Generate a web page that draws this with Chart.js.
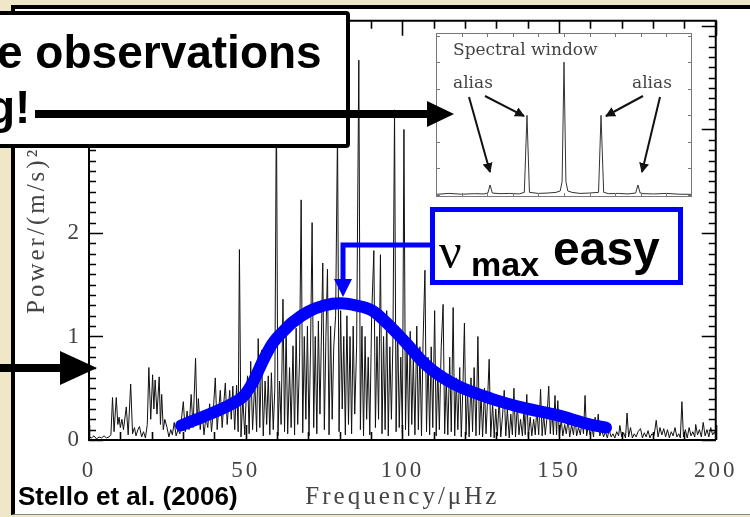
<!DOCTYPE html>
<html>
<head>
<meta charset="utf-8">
<script src="https://cdn.jsdelivr.net/npm/chart.js@4.4.0/dist/chart.umd.min.js"></script>
<style>
html, body { margin: 0; padding: 0; }
body { width: 750px; height: 517px; overflow: hidden; position: relative; background: #f0e6c8; }
#panel { position: absolute; left: 11px; top: 5px; width: 739px; height: 505px; background: #fff;
         border-left: 4px solid #000; border-top: 4px solid #000; border-bottom: 1px solid #888; }
#main { position: absolute; left: 0; top: 0; }
#inset { position: absolute; left: 436px; top: 33px; background: #fff; }
#notes { position: absolute; left: 0; top: 0; }
</style>
</head>
<body>
<div id="panel"></div>
<canvas id="main" width="750" height="517"></canvas>
<canvas id="inset" width="256" height="164"></canvas>
<svg id="notes" width="750" height="517" xmlns="http://www.w3.org/2000/svg">
  <defs>
    <marker id="ah" viewBox="0 0 10 10" refX="9" refY="5" markerWidth="5" markerHeight="5" orient="auto">
      <path d="M0,0 L10,5 L0,10 z" fill="#111"/>
    </marker>
  </defs>
  <!-- callout box, top left -->
  <rect x="-10" y="13" width="358" height="133" fill="#fff" stroke="#000" stroke-width="4" rx="2"/>
  <g font-family="Liberation Sans, Arial, sans-serif" font-weight="bold" font-size="46" fill="#000">
    <text x="-3" y="68">e observations</text>
    <text x="-13" y="123">g!</text>
  </g>
  <line x1="35" y1="114" x2="430" y2="114" stroke="#000" stroke-width="8"/>
  <polygon points="427,101 454,114 427,127" fill="#000"/>
  <!-- left arrow -->
  <line x1="0" y1="368" x2="64" y2="368" stroke="#000" stroke-width="8"/>
  <polygon points="60,351 97,368 60,385" fill="#000"/>
  <!-- numax box -->
  <rect x="432.5" y="209.5" width="248" height="73" fill="#fff" stroke="#0000ff" stroke-width="5"/>
  <text x="439" y="268" font-family="Liberation Serif, serif" font-size="50" fill="#000">ν</text>
  <text x="471" y="276" font-family="Liberation Sans, Arial, sans-serif" font-weight="bold" font-size="34" fill="#000">max</text>
  <text x="553" y="265" font-family="Liberation Sans, Arial, sans-serif" font-weight="bold" font-size="48" fill="#000">easy</text>
  <polyline points="432,245 343,245 343,282" stroke="#0000ff" stroke-width="5" fill="none"/>
  <polygon points="334,279 352,279 343,297" fill="#0000ff"/>
  <!-- inset labels -->
  <g font-family="DejaVu Serif, serif" fill="#444">
    <text x="453" y="55" font-size="17">Spectral window</text>
    <text x="453" y="88" font-size="17">alias</text>
    <text x="632" y="88" font-size="17">alias</text>
  </g>
  <g stroke="#111" stroke-width="2" marker-end="url(#ah)">
    <line x1="469" y1="97" x2="490" y2="172"/>
    <line x1="485" y1="96" x2="524" y2="116"/>
    <line x1="643" y1="96" x2="606" y2="116"/>
    <line x1="660" y1="97" x2="642" y2="172"/>
  </g>
  <text x="18" y="505" font-family="Liberation Sans, Arial, sans-serif" font-weight="bold" font-size="26" fill="#000">Stello et al. (2006)</text>
</svg>

<script>
// power spectrum (frequency in microHz, power in (m/s)^2)
const freq = [
  0, 0.8, 1.6, 2.4, 3.2, 4.0, 4.8, 5.6, 6.4, 7.0,
  7.5, 8.0, 8.7, 9.2, 9.6, 10.0, 10.5, 11.0, 11.9, 12.5,
  13.3, 13.9, 14.5, 15.0, 15.6, 16.1, 16.8, 17.4, 18.0, 18.6,
  19.1, 19.7, 20.3, 20.7, 21.1, 21.7, 22.4, 22.8, 23.2, 23.7,
  24.2, 24.9, 25.5, 26.1, 26.6, 27.2, 27.8, 28.4, 29.0, 29.5,
  30.1, 30.7, 31.3, 31.9, 32.6, 33.2, 34.0, 34.5, 34.9, 35.5,
  36.1, 36.7, 37.3, 37.9, 38.5, 39.1, 39.7, 40.3, 40.9, 41.4,
  41.9, 42.5, 43.0, 43.5, 44.1, 44.9, 45.4, 45.9, 46.5, 47.1,
  47.6, 48.0, 48.5, 49.1, 49.7, 50.2, 50.6, 51.1, 51.6, 52.2,
  52.9, 53.5, 54.0, 54.5, 55.1, 55.6, 56.2, 56.7, 57.2, 57.7,
  58.2, 58.8, 59.3, 59.8, 60.3, 60.8, 61.3, 61.9, 62.4, 62.9,
  63.4, 64.0, 64.5, 65.1, 65.6, 66.1, 66.6, 67.2, 67.7, 68.2,
  68.7, 69.2, 69.7, 70.2, 70.7, 71.2, 71.7, 72.2, 72.7, 73.2,
  73.7, 74.1, 74.6, 75.1, 75.6, 76.1, 76.6, 77.1, 77.6, 78.1,
  78.7, 79.3, 79.8, 80.3, 80.8, 81.3, 81.8, 82.3, 82.8, 83.3,
  83.8, 84.3, 84.8, 85.4, 86.1, 86.6, 87.1, 87.6, 88.1, 88.6,
  89.1, 89.6, 90.2, 90.9, 91.4, 91.9, 92.4, 93.0, 93.5, 94.0,
  94.5, 95.0, 95.5, 96.0, 96.5, 97.0, 97.5, 98.0, 98.5, 99.0,
  99.5, 100.0, 100.5, 101.0, 101.5, 102.0, 102.5, 103.0, 103.5, 104.0,
  104.6, 105.1, 105.6, 106.1, 106.6, 107.2, 107.7, 108.2, 108.7, 109.2,
  109.7, 110.3, 110.8, 111.3, 111.8, 112.4, 113.0, 113.5, 114.0, 114.5,
  115.1, 115.6, 116.2, 116.7, 117.2, 117.7, 118.3, 118.8, 119.3, 119.8,
  120.3, 120.8, 121.3, 121.9, 122.4, 122.9, 123.5, 124.1, 124.6, 125.1,
  125.6, 126.2, 126.7, 127.2, 127.7, 128.2, 128.8, 129.3, 129.8, 130.3,
  130.9, 131.4, 132.0, 132.5, 133.0, 133.5, 134.1, 134.6, 135.1, 135.6,
  136.1, 136.7, 137.2, 137.7, 138.3, 138.8, 139.2, 139.7, 140.2, 140.8,
  141.3, 141.9, 142.4, 142.9, 143.5, 144.1, 144.6, 145.1, 145.6, 146.1,
  146.7, 147.2, 147.7, 148.2, 148.7, 149.2, 149.6, 150.1, 150.7, 151.2,
  151.8, 152.3, 152.9, 153.4, 154.0, 154.6, 155.1, 155.6, 156.2, 156.8,
  157.3, 157.8, 158.3, 158.8, 159.4, 159.9, 160.5, 161.0, 161.5, 162.0,
  162.5, 163.0, 163.6, 164.2, 164.8, 165.4, 166.0, 166.6, 167.2, 167.8,
  168.4, 169.0, 169.4, 170.0, 170.6, 171.2, 171.7, 172.2, 172.8, 173.4,
  174.0, 174.6, 175.2, 176.0, 176.6, 177.2, 177.8, 178.4, 179.0, 179.6,
  180.3, 181.0, 181.6, 182.2, 182.8, 183.4, 184.0, 184.6, 185.2, 185.8,
  186.4, 187.0, 187.6, 188.2, 188.7, 189.2, 189.7, 190.3, 190.9, 191.5,
  192.1, 192.7, 193.3, 193.6, 194.2, 194.8, 195.4, 196.0, 196.6, 197.2,
  197.8, 198.4, 199.0, 199.6, 200.0
];
const power = [
  0.03, 0.02, 0.04, 0.01, 0.03, 0.02, 0.04, 0.02, 0.03, 0.05,
  0.41, 0.08, 0.41, 0.15, 0.22, 0.12, 0.20, 0.10, 0.32, 0.05,
  0.54, 0.06, 0.12, 0.04, 0.10, 0.13, 0.03, 0.08, 0.02, 0.15,
  0.70, 0.20, 0.63, 0.30, 0.58, 0.25, 0.61, 0.15, 0.44, 0.10,
  0.20, 0.12, 0.03, 0.10, 0.05, 0.17, 0.04, 0.10, 0.06, 0.20,
  0.37, 0.08, 0.28, 0.10, 0.44, 0.12, 0.79, 0.15, 0.40, 0.10,
  0.28, 0.05, 0.22, 0.12, 0.35, 0.08, 0.30, 0.60, 0.10, 0.30,
  0.48, 0.12, 0.35, 0.55, 0.15, 0.48, 0.20, 0.52, 0.10, 0.53,
  0.08, 1.84, 0.03, 0.40, 0.05, 0.45, 0.62, 0.06, 0.76, 0.10,
  0.57, 0.08, 0.98, 0.12, 0.87, 0.04, 0.57, 0.15, 0.62, 0.05,
  0.65, 0.10, 0.50, 3.30, 0.04, 0.57, 0.15, 1.36, 0.08, 1.08,
  0.06, 0.70, 0.12, 0.91, 0.05, 1.08, 0.15, 0.80, 2.32, 0.07,
  1.00, 0.20, 1.10, 0.04, 0.90, 2.10, 0.12, 1.00, 0.06, 1.15,
  0.25, 0.90, 1.71, 0.10, 1.00, 1.65, 0.05, 1.10, 0.20, 0.90,
  1.20, 3.00, 0.08, 1.25, 0.30, 1.00, 0.05, 1.20, 0.15, 1.00,
  0.06, 1.10, 0.25, 0.90, 3.67, 0.10, 1.10, 0.04, 1.00, 0.20,
  0.80, 0.05, 1.20, 1.83, 0.12, 1.00, 0.20, 1.79, 0.06, 1.00,
  0.10, 1.25, 0.04, 0.90, 0.20, 1.00, 3.19, 0.08, 1.10, 0.12,
  0.80, 0.06, 3.00, 0.10, 0.95, 0.04, 1.05, 0.15, 0.80, 0.05,
  1.10, 0.10, 0.90, 0.04, 0.95, 1.64, 0.08, 0.80, 0.05, 0.90,
  0.12, 1.25, 0.04, 0.70, 0.10, 0.90, 1.31, 0.06, 0.60, 0.05,
  0.80, 0.08, 1.28, 0.04, 0.60, 0.10, 0.70, 0.03, 0.50, 1.13,
  0.05, 0.50, 0.03, 0.60, 0.08, 0.70, 0.04, 1.00, 0.05, 0.45,
  0.03, 0.50, 0.06, 0.40, 0.78, 0.03, 0.35, 0.02, 0.30, 0.04,
  0.40, 0.03, 0.25, 0.48, 0.04, 0.30, 0.02, 0.25, 0.05, 0.50,
  0.03, 0.35, 0.05, 0.20, 0.04, 0.30, 0.05, 0.44, 0.03, 0.22,
  0.04, 0.20, 0.05, 0.30, 0.05, 0.49, 0.04, 0.25, 0.05, 0.20,
  0.52, 0.06, 0.30, 0.05, 0.43, 0.05, 0.38, 0.04, 0.20, 0.04,
  0.15, 0.06, 0.20, 0.03, 0.15, 0.05, 0.22, 0.04, 0.12, 0.05,
  0.18, 0.06, 0.43, 0.04, 0.15, 0.05, 0.12, 0.03, 0.22, 0.08,
  0.25, 0.04, 0.10, 0.03, 0.08, 0.02, 0.10, 0.03, 0.06, 0.02,
  0.08, 0.04, 0.14, 0.03, 0.07, 0.02, 0.26, 0.03, 0.12, 0.02,
  0.06, 0.03, 0.08, 0.11, 0.02, 0.07, 0.03, 0.09, 0.02, 0.06,
  0.04, 0.19, 0.03, 0.12, 0.05, 0.11, 0.03, 0.10, 0.02, 0.08,
  0.04, 0.12, 0.03, 0.06, 0.02, 0.37, 0.03, 0.10, 0.02, 0.12,
  0.04, 0.08, 0.03, 0.15, 0.05, 0.10, 0.03, 0.17, 0.04, 0.10,
  0.03, 0.12, 0.05, 0.08, 0.04
];

// hand-drawn blue envelope
const envFreq  = [29.4, 33.5, 39.3, 45, 49.5, 52.5, 55.6, 58.5, 62, 65.1, 70, 75, 80.3, 85, 90.4, 96.7, 100.8, 107, 112, 117.8, 128.3, 138.7, 149.4, 160, 165];
const envPower = [0.14, 0.19, 0.26, 0.34, 0.43, 0.57, 0.77, 0.93, 1.05, 1.14, 1.24, 1.30, 1.32, 1.30, 1.25, 1.08, 0.95, 0.74, 0.62, 0.52, 0.40, 0.31, 0.24, 0.15, 0.12];

// spectral window inset (offset from the central peak, microHz; normalised power)
const winFreq  = [-40, -36, -32, -28, -25, -23.8, -23.1, -22.4, -20, -17, -14, -12.4, -11.57, -10.8, -8, -5, -2.5, -1.2, -0.6, 0, 0.6, 1.2, 2.5, 5, 8, 10.8, 11.57, 12.4, 14, 17, 20, 22.4, 23.1, 23.8, 25, 28, 32, 36, 40];
const winPower = [0.005, 0.012, 0.006, 0.01, 0.008, 0.015, 0.075, 0.015, 0.01, 0.012, 0.008, 0.02, 0.60, 0.02, 0.012, 0.015, 0.02, 0.03, 0.1, 1.0, 0.1, 0.03, 0.02, 0.012, 0.015, 0.02, 0.60, 0.02, 0.01, 0.012, 0.008, 0.015, 0.075, 0.015, 0.01, 0.008, 0.012, 0.006, 0.005];

const xTickLabels = [0, 50, 100, 150, 200];
const yTickLabels = [0, 1, 2, 3];
const xMinorStep = 10;
const yMinorStep = 0.1;

Chart.defaults.font.family = 'Liberation Serif, serif';
Chart.defaults.color = '#444';

function toPoints(xs, ys) {
  return xs.map((v, i) => ({ x: v, y: ys[i] }));
}

// inward ticks on all four sides, IDL style
const frameTicks = {
  id: 'frameTicks',
  beforeDraw(chart) { chart.ctx.letterSpacing = '3px'; },
  afterDraw(chart) {
    const { ctx, chartArea: a, scales: { x, y } } = chart;
    ctx.save();
    ctx.strokeStyle = '#000';
    ctx.lineWidth = 2;
    ctx.beginPath();
    ctx.moveTo(a.left, a.top);
    ctx.lineTo(a.right, a.top);
    ctx.lineTo(a.right, a.bottom);
    ctx.stroke();
    ctx.lineWidth = 1.6;
    ctx.beginPath();
    for (let i = 0; i * xMinorStep <= x.max; i++) {
      const v = i * xMinorStep;
      const px = Math.round(x.getPixelForValue(v)) + 0.5;
      const len = xTickLabels.includes(v) ? 15 : 8;
      ctx.moveTo(px, a.bottom); ctx.lineTo(px, a.bottom - len);
      ctx.moveTo(px, a.top); ctx.lineTo(px, a.top + len);
    }
    for (let i = 0; i * yMinorStep <= y.max; i++) {
      const v = i * yMinorStep;
      const py = Math.round(y.getPixelForValue(v)) + 0.5;
      const len = i % 10 === 0 ? 14 : 7;
      ctx.moveTo(a.left, py); ctx.lineTo(a.left + len, py);
      ctx.moveTo(a.right, py); ctx.lineTo(a.right - len, py);
    }
    ctx.stroke();
    ctx.restore();
  }
};

new Chart(document.getElementById('main').getContext('2d'), {
  type: 'line',
  data: {
    datasets: [
      { data: toPoints(freq, power), borderColor: '#111', borderWidth: 1, pointRadius: 0, tension: 0, order: 2 },
      { data: toPoints(envFreq, envPower), borderColor: '#0000ff', borderWidth: 12, pointRadius: 0, order: 1,
        cubicInterpolationMode: 'monotone', borderCapStyle: 'round', borderJoinStyle: 'round' }
    ]
  },
  options: {
    responsive: false,
    animation: false,
    layout: { padding: { left: 0, top: 15, right: 28, bottom: 0 } },
    plugins: { legend: { display: false }, tooltip: { enabled: false } },
    scales: {
      x: {
        type: 'linear', min: 0, max: 200,
        afterBuildTicks: s => { s.ticks = xTickLabels.map(v => ({ value: v })); },
        afterFit: s => { s.height = 77; },
        grid: { display: false, drawTicks: false },
        border: { display: true, color: '#000', width: 2 },
        ticks: { autoSkip: false, maxRotation: 0, padding: 17, font: { size: 23 } },
        title: { display: true, text: 'Frequency/μHz', font: { size: 25 }, padding: { top: 0, bottom: 5 } }
      },
      y: {
        type: 'linear', min: 0, max: 4.05,
        afterBuildTicks: s => { s.ticks = yTickLabels.map(v => ({ value: v })); },
        afterFit: s => { s.width = 89; },
        grid: { display: false, drawTicks: false },
        border: { display: true, color: '#000', width: 2 },
        ticks: { padding: 7, font: { size: 23 } },
        title: { display: true, text: 'Power/(m/s)²', font: { size: 25 }, padding: { top: 22, bottom: 0 } }
      }
    }
  },
  plugins: [frameTicks]
});

// gray frame with small ticks for the inset
const insetFrame = {
  id: 'insetFrame',
  afterDraw(chart) {
    const { ctx, chartArea: a, scales: { x, y } } = chart;
    ctx.save();
    ctx.strokeStyle = '#777';
    ctx.lineWidth = 1;
    ctx.strokeRect(a.left + 0.5, a.top + 0.5, a.right - a.left - 1, a.bottom - a.top - 1);
    ctx.beginPath();
    for (let v = -40; v <= 40; v += 8) {
      const px = Math.round(x.getPixelForValue(v)) + 0.5;
      ctx.moveTo(px, a.bottom); ctx.lineTo(px, a.bottom - 4);
      ctx.moveTo(px, a.top); ctx.lineTo(px, a.top + 4);
    }
    for (let i = 0; i <= 6; i++) {
      const py = Math.round(y.getPixelForValue(i * 0.2)) + 0.5;
      ctx.moveTo(a.left, py); ctx.lineTo(a.left + 4, py);
      ctx.moveTo(a.right, py); ctx.lineTo(a.right - 4, py);
    }
    ctx.stroke();
    ctx.restore();
  }
};

new Chart(document.getElementById('inset').getContext('2d'), {
  type: 'line',
  data: {
    datasets: [
      { data: toPoints(winFreq, winPower), borderColor: '#333', borderWidth: 1, pointRadius: 0, tension: 0 }
    ]
  },
  options: {
    responsive: false,
    animation: false,
    layout: { padding: 0 },
    plugins: { legend: { display: false }, tooltip: { enabled: false } },
    scales: {
      x: { type: 'linear', min: -40, max: 40, display: false },
      y: { type: 'linear', min: -0.015, max: 1.22, display: false }
    }
  },
  plugins: [insetFrame]
});
</script>
</body>
</html>
